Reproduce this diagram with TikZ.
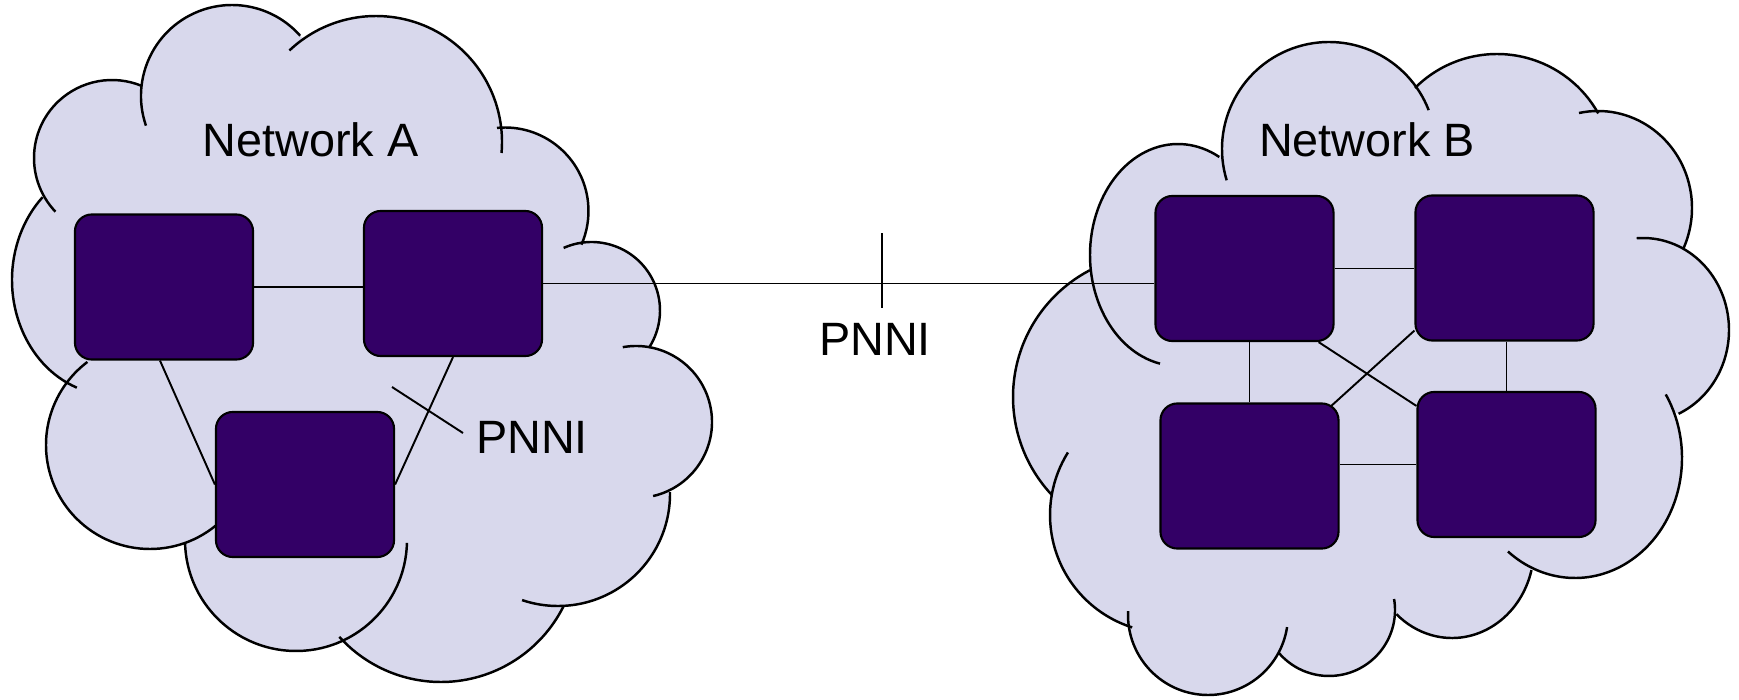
\documentclass[tikz,border=0pt]{standalone}
\usepackage{fontspec}
\setmainfont{Liberation Sans}
\usetikzlibrary{calc}
\definecolor{cloudfill}{HTML}{D8D8EC}
\definecolor{boxfill}{HTML}{330066}
\pgfdeclarelayer{cloudlayer}
\pgfdeclarelayer{linklayer}
\pgfsetlayers{cloudlayer,linklayer,main}
\tikzset{
  % elliptic arc of one cloud bump: {centre}{x radius}{y radius}{start angle}{end angle}
  arcpiece/.style n args={5}{insert path={([shift={(#1)}]#4:#2 and #3) arc[start angle=#4,end angle=#5,x radius=#2,y radius=#3]}},
  arcnext/.style n args={5}{insert path={-- ([shift={(#1)}]#4:#2 and #3) arc[start angle=#4,end angle=#5,x radius=#2,y radius=#3]}},
}
\begin{document}
\begin{tikzpicture}[x=0.01cm,y=-0.01cm,
  bumpline/.style={draw=black,line width=0.7pt},
  link/.style={draw=black,line width=0.55pt},
  switchbox/.style={draw=black,fill=boxfill,line width=0.6pt,rounded corners=4.8pt,
    minimum width=1.78cm,minimum height=1.45cm,inner sep=0pt},
  lbl/.style={font=\fontsize{13.3}{16}\selectfont,inner sep=0pt,anchor=base}]
\useasboundingbox (0,0) rectangle (1739,700);

\begin{pgfonlayer}{cloudlayer}
  % ---- cloud A: fill
  \fill[cloudfill]
    [arcpiece={112,280}{100}{115}{115.3}{226}]
    [arcnext={112,158}{78}{78}{149}{292.6}]
    [arcnext={232,96}{91}{91}{186.3}{318.5}]
    [arcnext={376,142}{126}{126}{235}{353}]
    [arcnext={505,211}{83.5}{83.5}{264.5}{383.8}]
    [arcnext={591.5,310.5}{68.5}{68.5}{262}{393}]
    [arcnext={636,422}{76}{76}{280}{425}]
    [arcnext={558,494}{112}{112}{-1}{86}]
    [arcnext={441,545}{137}{137}{26.7}{137.9}]
    [arcnext={296,540}{111}{111}{66}{178.5}]
    [arcnext={150,445}{104}{104}{70.3}{217.8}]
    -- cycle;
  % ---- cloud B: fill
  \fill[cloudfill]
    [arcpiece={1178,255}{88}{111}{172.3}{298}]
    [arcnext={1329,149}{107}{107}{178}{324}]
    [arcnext={1497,170}{116}{116}{225}{330.8}]
    [arcnext={1598,208}{94}{97}{270.6}{384.5}]
    [arcnext={1643,330}{86}{92}{296.4}{425.6}]
    [arcnext={1575,458}{107}{120}{337.2}{473.8}]
    [arcnext={1452,548}{82}{90}{14.2}{132.7}]
    [arcnext={1329,610}{66}{66}{8.7}{139.9}]
    [arcnext={1208,615}{80}{80}{28.5}{170.3}]
    [arcnext={1168,515}{118}{118}{107.7}{189.8}]
    [arcnext={1156,397}{143}{143}{136.7}{242.5}]
    -- cycle;
  % ---- cloud A: outline bumps
  \draw[bumpline] [arcpiece={112,280}{100}{115}{110.6}{226}];
  \draw[bumpline] [arcpiece={112,158}{78}{78}{136.5}{292.6}];
  \draw[bumpline] [arcpiece={232,96}{91}{91}{161}{318.5}];
  \draw[bumpline] [arcpiece={376,142}{126}{126}{226.6}{365}];
  \draw[bumpline] [arcpiece={505,211}{83.5}{83.5}{264.5}{383.8}];
  \draw[bumpline] [arcpiece={591.5,310.5}{68.5}{68.5}{246}{393}];
  \draw[bumpline] [arcpiece={636,422}{76}{76}{260}{437}];
  \draw[bumpline] [arcpiece={558,494}{112}{112}{-1}{108.7}];
  \draw[bumpline] [arcpiece={441,545}{137}{137}{26.7}{137.9}];
  \draw[bumpline] [arcpiece={296,540}{111}{111}{1.5}{178.5}];
  \draw[bumpline] [arcpiece={150,445}{104}{104}{45}{233}];
  % ---- cloud B: outline bumps
  \draw[bumpline] [arcpiece={1178,255}{88}{111}{101.8}{298}];
  \draw[bumpline] [arcpiece={1329,149}{107}{107}{163}{338.7}];
  \draw[bumpline] [arcpiece={1497,170}{116}{116}{225}{330.8}];
  \draw[bumpline] [arcpiece={1598,208}{94}{97}{258.3}{384.5}];
  \draw[bumpline] [arcpiece={1643,330}{86}{92}{265.8}{425.6}];
  \draw[bumpline] [arcpiece={1575,458}{107}{120}{328}{488.8}];
  \draw[bumpline] [arcpiece={1452,548}{82}{90}{14.2}{132.7}];
  \draw[bumpline] [arcpiece={1329,610}{66}{66}{-9.6}{139.9}];
  \draw[bumpline] [arcpiece={1208,615}{80}{80}{8.7}{182.8}];
  \draw[bumpline] [arcpiece={1168,515}{118}{118}{107.7}{212}];
  \draw[bumpline] [arcpiece={1156,397}{143}{143}{136.7}{242.5}];
\end{pgfonlayer}

% switches
\node[switchbox] (A1) at (164,287) {};
\node[switchbox] (A2) at (453,283.5) {};
\node[switchbox] (A3) at (305,484.5) {};
\node[switchbox] (B1) at (1244.5,268.5) {};
\node[switchbox] (B2) at (1504.5,268) {};
\node[switchbox] (B3) at (1249.5,476) {};
\node[switchbox] (B4) at (1506.5,464.5) {};

% labels
\node[lbl] (nA) at (310.5,156) {Network A};
\node[lbl] (nB) at (1367,156.7) {Network B};
\node[lbl] (pA) at (532,453) {PNNI};
\node[lbl] (pM) at (875,355) {PNNI};

\coordinate (tk1) at (882,233);
\coordinate (tk2) at (882,308);
\coordinate (pAt) at (392,387);
\coordinate (pAe) at (463,433);

\begin{pgfonlayer}{linklayer}
  \draw[link] (A1.east) -- (A1.east -| A2.west);
  \draw[link] ($(A1.south)+(-4,0)$) -- (A3.west);
  \draw[link] (A2.south) -- (A3.east);
  \draw[link] (A2.east) -- (A2.east -| B1.west);
  \draw[link] (B1.east) -- (B1.east -| B2.west);
  \draw[link] (B3.north) -- (B3.north |- B1.south);
  \draw[link] (B4.north) -- (B4.north |- B2.south);
  \draw[link] (B4.west) -- (B4.west -| B3.east);
  \draw[link] ($(B1.south east)+(-16,0)$) -- ($(B4.north west)+(0,15)$);
  \draw[link] ($(B2.south west)+(0,-11)$) -- ($(B3.north east)+(-10,5)$);
  \draw[link] (tk1) -- (tk2);
  \draw[link] (pAt) -- (pAe);
\end{pgfonlayer}
\end{tikzpicture}
\end{document}
